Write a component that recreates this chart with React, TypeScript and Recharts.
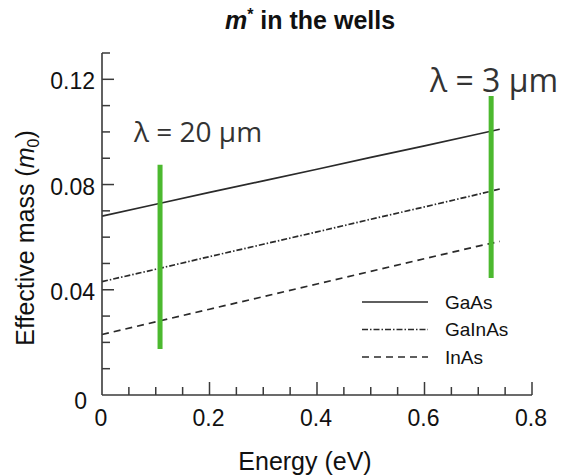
import React from "react";
import { LineChart, Line, XAxis, YAxis, ReferenceLine } from "recharts";

// energy (eV) and effective mass (m0)
const energy = [0, 0.1, 0.2, 0.3, 0.4, 0.5, 0.6, 0.7, 0.74];
const gaAs = [0.068, 0.0725, 0.077, 0.0814, 0.0858, 0.0903, 0.0947, 0.0992, 0.101];
const gaInAs = [0.0431, 0.0478, 0.0526, 0.0573, 0.062, 0.0668, 0.0715, 0.0763, 0.0783];
const inAs = [0.023, 0.0278, 0.0326, 0.0374, 0.0422, 0.047, 0.0518, 0.0566, 0.0584];

const xTicks = [0, 0.05, 0.1, 0.15, 0.2, 0.25, 0.3, 0.35, 0.4, 0.45, 0.5, 0.55, 0.6, 0.65, 0.7, 0.75, 0.8];
const xLabels = [0, 0.2, 0.4, 0.6, 0.8];
const yTicks = [0, 0.01, 0.02, 0.03, 0.04, 0.05, 0.06, 0.07, 0.08, 0.09, 0.1, 0.11, 0.12, 0.13];
const yLabels = [0, 0.04, 0.08, 0.12];

// green wavelength markers
const markerEnergy = [0.108, 0.724];
const markerLow = [0.0175, 0.0445];
const markerHigh = [0.0875, 0.1137];

const series = [
  { key: "GaAs", dash: undefined },
  { key: "GaInAs", dash: "6 2 1.5 2" },
  { key: "InAs", dash: "7 5" },
];

const data = energy.map((e, i) => ({
  e,
  GaAs: gaAs[i],
  GaInAs: gaInAs[i],
  InAs: inAs[i],
}));

const AXIS = "#3a3a3a";
const INK = "#111";
const LINE = "#2a2a2a";
const GREEN = "#4cb92f";
const FONT = "'Liberation Sans', Arial, Helvetica, sans-serif";

const near = (list: number[], v: number) => list.some((t) => Math.abs(t - v) < 1e-6);

function YTick(props: any) {
  const { x, y, payload } = props;
  const v = payload.value;
  const major = near(yLabels, v);
  const len = major ? 12 : 8;
  const text = v === 0 ? "0" : v.toFixed(2);
  return (
    <g>
      {v > 0 && <line x1={x} x2={x + len} y1={y} y2={y} stroke={AXIS} strokeWidth={1.5} />}
      {major && (
        <text
          x={v === 0 ? x - 15 : x - 7}
          y={v === 0 ? y + 6 : y + 2}
          textAnchor="end"
          dominantBaseline="central"
          fontSize={23}
          fontFamily={FONT}
          fill={INK}
        >
          {text}
        </text>
      )}
    </g>
  );
}

function XTick(props: any) {
  const { x, y, payload } = props;
  const v = payload.value;
  const major = near(xLabels, v);
  const len = major ? 13 : 8;
  const text = v === 0 ? "0" : String(Math.round(v * 10) / 10);
  return (
    <g>
      {v > 0 && <line x1={x} x2={x} y1={y} y2={y - len} stroke={AXIS} strokeWidth={1.5} />}
      {major && (
        <text
          x={x - 1}
          y={y + 23}
          textAnchor="middle"
          dominantBaseline="central"
          fontSize={23}
          fontFamily={FONT}
          fill={INK}
        >
          {text}
        </text>
      )}
    </g>
  );
}

export default function App() {
  return (
    <div style={{ position: "fixed", left: 0, top: 0, width: 565, height: 476, background: "#fff" }}>
      <LineChart
        width={565}
        height={476}
        data={data}
        margin={{ top: 53, right: 33, left: 42, bottom: 51 }}
      >
        <XAxis
          dataKey="e"
          type="number"
          domain={[0, 0.8]}
          ticks={xTicks}
          interval={0}
          height={30}
          tickSize={0}
          tickMargin={0}
          tickLine={false}
          axisLine={{ stroke: AXIS, strokeWidth: 1.6 }}
          tick={<XTick />}
        />
        <YAxis
          type="number"
          domain={[0, 0.13]}
          ticks={yTicks}
          interval={0}
          width={60}
          tickSize={0}
          tickMargin={0}
          tickLine={false}
          axisLine={{ stroke: AXIS, strokeWidth: 1.6 }}
          tick={<YTick />}
        />
        {series.map((s) => (
          <Line
            key={s.key}
            dataKey={s.key}
            stroke={LINE}
            strokeWidth={1.7}
            strokeDasharray={s.dash}
            dot={false}
            activeDot={false}
            isAnimationActive={false}
          />
        ))}
        {markerEnergy.map((m, i) => (
          <ReferenceLine
            key={i}
            segment={[
              { x: m, y: markerLow[i] },
              { x: m, y: markerHigh[i] },
            ]}
            stroke={GREEN}
            strokeWidth={5}
          />
        ))}
      </LineChart>
      <svg
        width={565}
        height={476}
        style={{ position: "absolute", left: 0, top: 0, pointerEvents: "none" }}
      >
        <text x={310} y={29} textAnchor="middle" fontSize={25} fontWeight="bold" fontFamily={FONT} fill={INK}>
          <tspan fontStyle="italic">m</tspan>
          <tspan fontSize={16} dy={-9}>*</tspan>
          <tspan dy={9}> in the wells</tspan>
        </text>
        <text x={305} y={470} textAnchor="middle" fontSize={25} fontFamily={FONT} fill={INK}>
          Energy (eV)
        </text>
        <text
          transform="translate(34, 238) rotate(-90)"
          textAnchor="middle"
          fontSize={25}
          fontFamily={FONT}
          fill={INK}
        >
          Effective mass (<tspan fontStyle="italic">m</tspan>
          <tspan fontSize={16} dy={5}>0</tspan>
          <tspan dy={-5}>)</tspan>
        </text>
        <text x={134} y={142} fontSize={28} fontFamily="'Open Sans', sans-serif" fill="#333">
          λ = 20 µm
        </text>
        <text x={430} y={92} fontSize={32} fontFamily="'Open Sans', sans-serif" fill="#333">
          λ = 3 µm
        </text>
        <g transform="translate(355, 288)">
          {series.map((s, i) => (
            <g key={s.key}>
              <line
                x1={7}
                x2={73}
                y1={14 + i * 27.5}
                y2={14 + i * 27.5}
                stroke={LINE}
                strokeWidth={1.7}
                strokeDasharray={s.dash}
              />
              <text
                x={90}
                y={14 + i * 27.5}
                dominantBaseline="central"
                fontSize={19}
                fontFamily={FONT}
                fill={INK}
              >
                {s.key}
              </text>
            </g>
          ))}
        </g>
      </svg>
    </div>
  );
}
